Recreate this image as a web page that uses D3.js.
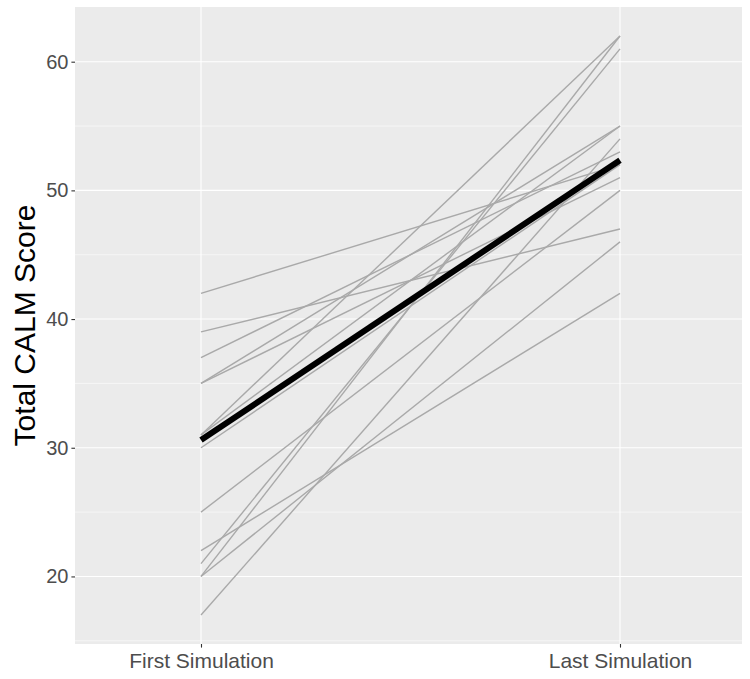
<!DOCTYPE html>
<html>
<head>
<meta charset="utf-8">
<script src="https://cdn.jsdelivr.net/npm/d3@7"></script>
<style>
body{margin:0;background:#fff;}
</style>
</head>
<body>
<script>
// the two time points on the x axis
var timeLabels = ["First Simulation", "Last Simulation"];
// one row per participant: score at first and at last simulation
var firstScores = [42, 39, 37, 35, 35, 31, 31, 30, 25, 22, 21, 20, 20, 17];
var lastScores  = [52, 47, 53, 55, 51, 62, 55, 52, 50, 42, 61, 62, 46, 54];
// overall trend line (thick black)
var trendScores = [30.6, 52.35];
var yTicks = [20, 30, 40, 50, 60];
var yMinor = [15, 25, 35, 45, 55];

var W = 750, H = 679;
var panel = {left: 75, right: 742, top: 7, bottom: 644};

var svg = d3.select("body").append("svg")//canvas
    .attr("width", W)
    .attr("height", H);

var x = d3.scaleLinear().domain([0, 1]).range([201, 620]);//0 = first, 1 = last
var y = d3.scaleLinear().domain([14.75, 64.25]).range([panel.bottom, panel.top]);

// grey panel
svg.append("rect")
    .attr("x", panel.left).attr("y", panel.top)
    .attr("width", panel.right - panel.left)
    .attr("height", panel.bottom - panel.top)
    .attr("fill", "#EBEBEB");

// minor grid
svg.selectAll(".minor").data(yMinor).enter().append("line")
    .attr("x1", panel.left).attr("x2", panel.right)
    .attr("y1", function(d){return y(d);}).attr("y2", function(d){return y(d);})
    .attr("stroke", "#fff").attr("stroke-width", 0.55);

// major grid
svg.selectAll(".major").data(yTicks).enter().append("line")
    .attr("x1", panel.left).attr("x2", panel.right)
    .attr("y1", function(d){return y(d);}).attr("y2", function(d){return y(d);})
    .attr("stroke", "#fff").attr("stroke-width", 1.1);
svg.selectAll(".vmajor").data([0, 1]).enter().append("line")
    .attr("y1", panel.top).attr("y2", panel.bottom)
    .attr("x1", function(d){return x(d);}).attr("x2", function(d){return x(d);})
    .attr("stroke", "#fff").attr("stroke-width", 1.1);

// participant lines
var rows = firstScores.map(function(f, i){ return [f, lastScores[i]]; });
var line = d3.line()
    .x(function(d, i){return x(i);})
    .y(function(d){return y(d);});

svg.selectAll(".subj").data(rows).enter().append("path")
    .attr("d", line)
    .attr("fill", "none")
    .attr("stroke", "#A9A9A9")
    .attr("stroke-width", 1.4);

svg.append("path")
    .attr("d", line(trendScores))
    .attr("fill", "none")
    .attr("stroke", "#000")
    .attr("stroke-width", 6);

// axes
var yAxis = d3.axisLeft(y).tickValues(yTicks).tickSize(3.6).tickPadding(3);
var gy = svg.append("g").attr("transform", "translate(" + panel.left + ",0)").call(yAxis);
var xAxis = d3.axisBottom(x).tickValues([0, 1])
    .tickFormat(function(d){return timeLabels[d];}).tickSize(3.6).tickPadding(5);
var gx = svg.append("g").attr("transform", "translate(0," + panel.bottom + ")").call(xAxis);

[gy, gx].forEach(function(g){
    g.select(".domain").remove();
    g.selectAll(".tick line").attr("stroke", "#333333").attr("stroke-width", 1.1);
    g.selectAll("text").attr("fill", "#4D4D4D")
        .style("font-family", "'Liberation Sans', Arial, sans-serif");
});
gy.selectAll("text").style("font-size", "20px");
gx.selectAll("text").style("font-size", "21px");

svg.append("text")
    .attr("transform", "translate(35," + ((panel.top + panel.bottom) / 2) + ") rotate(-90)")
    .attr("text-anchor", "middle")
    .style("font-family", "'Liberation Sans', Arial, sans-serif")
    .style("font-size", "30px")
    .attr("fill", "#000")
    .text("Total CALM Score");
</script>
</body>
</html>
